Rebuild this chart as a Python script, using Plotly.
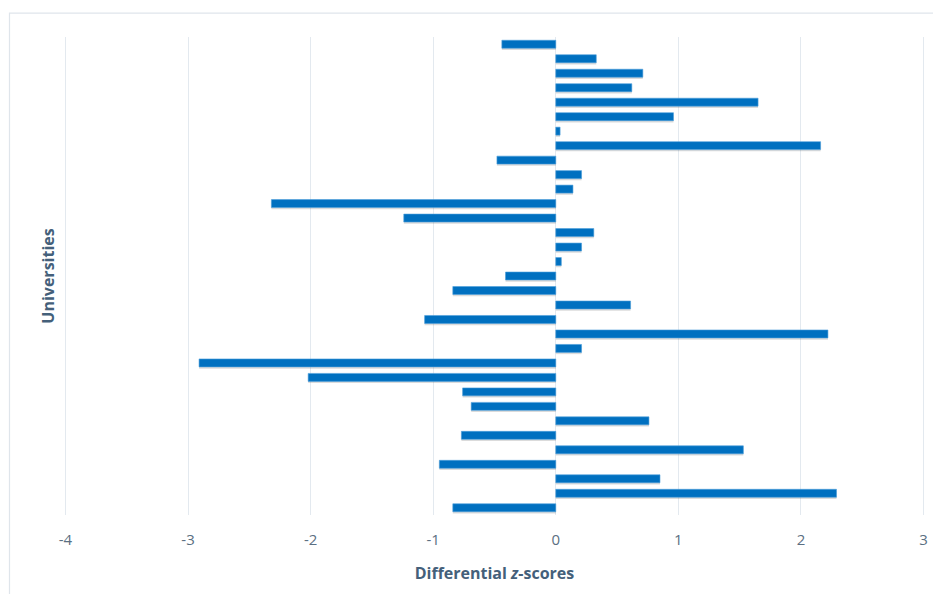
import plotly.graph_objects as go

# Differential z-scores per university, listed top to bottom as in the chart
universities = [f"University {i}" for i in range(1, 34)]
z_scores = [
    -0.44, 0.33, 0.71, 0.62, 1.65, 0.96, 0.035, 2.16, -0.48, 0.21,
    0.14, -2.32, -1.24, 0.31, 0.21, 0.045, -0.41, -0.84, 0.61, -1.07,
    2.22, 0.21, -2.91, -2.02, -0.76, -0.69, 0.76, -0.77, 1.53, -0.95,
    0.85, 2.29, -0.84,
]
x_ticks = [-4, -3, -2, -1, 0, 1, 2, 3]

BLUE = "#0070C0"
GRID = "#e3e9ef"
TICK = "#5b6f82"
TITLE = "#44607a"

BAR_W = 0.55

fig = go.Figure()
# soft drop shadow under each bar
fig.add_trace(go.Bar(
    y=universities,
    x=z_scores,
    orientation="h",
    width=BAR_W,
    offset=-BAR_W / 2 + 0.12,
    marker=dict(color="rgba(90,90,90,0.22)", line=dict(width=0)),
    showlegend=False,
    hoverinfo="skip",
))
fig.add_trace(go.Bar(
    y=universities,
    x=z_scores,
    orientation="h",
    width=BAR_W,
    offset=-BAR_W / 2,
    marker=dict(color=BLUE, line=dict(color="#4d9fdc", width=0.6)),
    showlegend=False,
))

fig.update_layout(
    width=925,
    height=586,
    margin=dict(l=55, r=5, t=29, b=79),
    barmode="overlay",
    paper_bgcolor="white",
    plot_bgcolor="white",
    font=dict(family="Open Sans", color=TICK),
    xaxis=dict(
        range=[-4.02, 3.02],
        tickvals=x_ticks,
        ticktext=[str(v) for v in x_ticks],
        showgrid=True,
        gridcolor=GRID,
        gridwidth=1,
        zeroline=True,
        zerolinecolor=GRID,
        zerolinewidth=1,
        showline=False,
        ticks="",
        ticklabelstandoff=14,
        tickfont=dict(size=15, color=TICK),
        title=dict(
            text="<b>Differential <i>z</i>-scores</b>",
            font=dict(size=16, color=TITLE),
            standoff=19,
        ),
    ),
    yaxis=dict(
        categoryorder="array",
        categoryarray=universities,
        autorange="reversed",
        showticklabels=False,
        showgrid=False,
        zeroline=False,
        showline=False,
        ticks="",
        title=dict(
            text="<b>Universities</b>",
            font=dict(size=16, color=TITLE),
            standoff=3,
        ),
    ),
    shapes=[
        dict(
            type="rect",
            xref="paper", yref="paper",
            x0=-0.062, x1=1.05, y0=-0.25, y1=1.05,
            line=dict(color="#dfe5eb", width=1.2),
            fillcolor="rgba(0,0,0,0)",
            layer="below",
        )
    ],
)

fig.write_html("out.html")
